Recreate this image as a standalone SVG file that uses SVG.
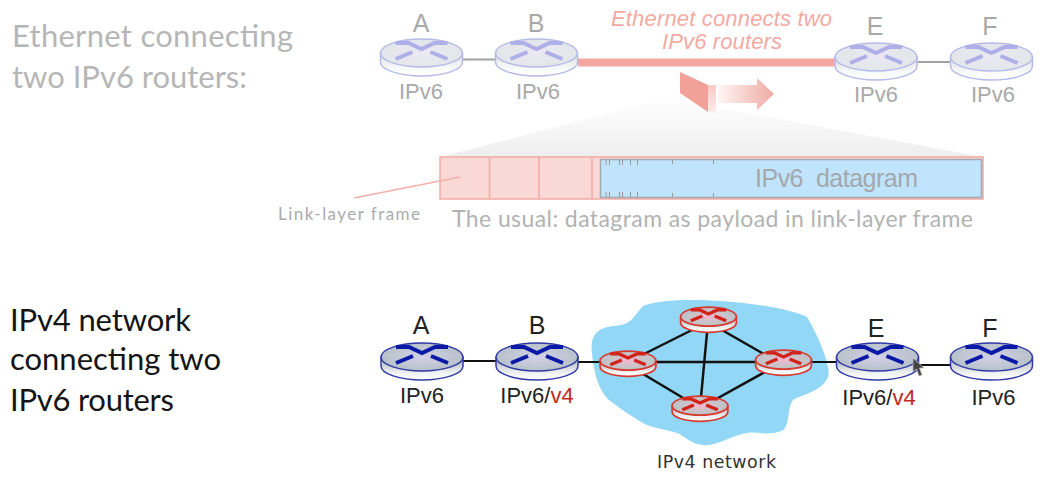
<svg xmlns="http://www.w3.org/2000/svg" width="1043" height="478" viewBox="0 0 1043 478">
<style>
text{font-family:"Liberation Sans",Arial,sans-serif}
.h{font-family:Lato,"Open Sans",sans-serif;font-size:31px}
.fade{fill:#b6b6b6}.dark{fill:#151515}
.n{font-size:22px;text-anchor:middle}
.l{font-size:25px;text-anchor:middle}
.top{fill:#a9a9a9}.bot{fill:#222}
.red{fill:#c5281c}
.eth{font-style:italic;font-size:22px;fill:#f3aaa3;text-anchor:middle}
.fade-link{stroke:#a2a2a2;stroke-width:2;fill:none}
.link{stroke:#111;stroke-width:2;fill:none}
.mesh{stroke:#111;stroke-width:2.500;fill:none}
.div{stroke:#f2aaa3;stroke-width:1.500;fill:none}
.tick{stroke:#9a9a9a;stroke-width:1;fill:none}
</style>
<defs>
<linearGradient id="bodyB" x1="0" x2="0" y1="0" y2="1"><stop offset="0" stop-color="#a9b1b6"/><stop offset=".7" stop-color="#f0f2f3"/><stop offset="1" stop-color="#ffffff"/></linearGradient>
<linearGradient id="bodyF" x1="0" x2="0" y1="0" y2="1"><stop offset="0" stop-color="#dde0e3"/><stop offset=".7" stop-color="#f9fafa"/><stop offset="1" stop-color="#ffffff"/></linearGradient>
<radialGradient id="topB"><stop offset="0" stop-color="#d3d0e8"/><stop offset="1" stop-color="#b7c2c9"/></radialGradient>
<radialGradient id="topF"><stop offset="0" stop-color="#ebe9f4"/><stop offset="1" stop-color="#e2e6e9"/></radialGradient>
<radialGradient id="topR"><stop offset="0" stop-color="#f7b4cd"/><stop offset=".6" stop-color="#c8c4ca"/><stop offset="1" stop-color="#bcc2c6"/></radialGradient>
<linearGradient id="zoomfan" x1="0" x2="0" y1="0" y2="1"><stop offset="0" stop-color="#ffffff"/><stop offset="1" stop-color="#eeeeee"/></linearGradient>
<linearGradient id="arrowfade" x1="0" x2="1" y1="0" y2="0"><stop offset="0" stop-color="#fff6f5"/><stop offset="1" stop-color="#eeaaa2"/></linearGradient>
<linearGradient id="stripfade" x1="0" x2="0" y1="0" y2="1"><stop offset="0" stop-color="#f8c9c4"/><stop offset="1" stop-color="#fdeeec"/></linearGradient>
<g id="routerF"><g fill="url(#bodyF)" stroke="#b6bae8" stroke-width="1.500"><path d="M-41,1V10A41,14 0 0 0 41,10V1Z"/><ellipse cx="0" cy="1" rx="41" ry="14" fill="url(#topF)"/></g><path d="M-26,-9H-13L0,-3L13,-9H26M-26,7L-9,0M9,0L26,7" fill="none" stroke="#aeaee8" stroke-width="4"/></g>
<g id="routerB"><g fill="url(#bodyB)" stroke="#2f3aa8" stroke-width="1.500"><path d="M-41,1V10A41,14 0 0 0 41,10V1Z"/><ellipse cx="0" cy="1" rx="41" ry="14" fill="url(#topB)"/></g><path d="M-26,-9H-13L0,-3L13,-9H26M-26,7L-9,0M9,0L26,7" fill="none" stroke="#0a19a6" stroke-width="4"/></g>
<g id="routerR"><g fill="url(#bodyB)" stroke="#d83a30" stroke-width="2.500"><path d="M-41,1V10A41,14 0 0 0 41,10V1Z"/><ellipse cx="0" cy="1" rx="41" ry="14" fill="url(#topR)"/></g><path d="M-26,-9H-13L0,-3L13,-9H26M-26,7L-9,0M9,0L26,7" fill="none" stroke="#d2231b" stroke-width="5"/></g>
</defs>

<g id="heading-ethernet"><text class="h fade" x="12" y="47" textLength="281">Ethernet connecting</text><text class="h fade" x="12" y="88" textLength="235">two IPv6 routers:</text></g>
<g id="heading-ipv4"><text class="h dark" x="10" y="331" textLength="181">IPv4 network</text><text class="h dark" x="10" y="370" textLength="211">connecting two</text><text class="h dark" x="10" y="411" textLength="164">IPv6 routers</text></g>

<g id="zoom-fan"><polygon points="440,157 672,97 720,108 983,157" fill="url(#zoomfan)"/></g>
<g id="cloud"><path d="M592,353C590,338 595,328 613,326C632,325 632,318 643,306C665,298 700,300 720,301C750,303 790,308 807,317C818,335 832,368 828,377C822,392 800,395 793,400C787,408 790,425 783,430C770,437 755,431 747,433C730,436 715,447 703,445C690,444 685,436 677,433C660,428 652,428 643,423C630,415 622,410 613,403C600,395 594,375 592,353Z" fill="#93d7f7"/></g>

<g id="connectors">
<line class="fade-link" x1="462" y1="59.500" x2="496" y2="59.500"/>
<line x1="578" y1="62.500" x2="836" y2="62.500" stroke="#f4a7a0" stroke-width="8"/>
<line class="fade-link" x1="917" y1="62" x2="950" y2="62"/>
<line class="link" x1="463" y1="361" x2="496" y2="361"/>
<line class="link" x1="578" y1="362" x2="628" y2="362"/>
<line class="mesh" x1="628" y1="362" x2="783" y2="362"/>
<line class="link" x1="783" y1="362" x2="836" y2="362"/>
<line class="link" x1="919" y1="365" x2="950" y2="365"/>
<line class="mesh" x1="628" y1="362" x2="708" y2="322"/>
<line class="mesh" x1="708" y1="322" x2="783" y2="365"/>
<line class="mesh" x1="628" y1="365" x2="700" y2="408"/>
<line class="mesh" x1="700" y1="408" x2="783" y2="362"/>
<line class="mesh" x1="708" y1="322" x2="700" y2="408"/>
</g>

<g id="router-top-A"><use href="#routerF" x="421.500" y="52"/><text class="l top" x="421" y="32">A</text><text class="n top" x="421" y="99">IPv6</text></g>
<g id="router-top-B"><use href="#routerF" x="536.500" y="52"/><text class="l top" x="536" y="32">B</text><text class="n top" x="538" y="99">IPv6</text></g>
<g id="router-top-E"><use href="#routerF" x="876" y="56"/><text class="l top" x="875" y="35">E</text><text class="n top" x="876" y="102">IPv6</text></g>
<g id="router-top-F"><use href="#routerF" x="991.500" y="56"/><text class="l top" x="990" y="35">F</text><text class="n top" x="993" y="102">IPv6</text></g>

<g id="ethernet-label"><text class="eth" x="721.500" y="26" textLength="221">Ethernet connects two</text><text class="eth" x="722" y="49" textLength="120">IPv6 routers</text></g>

<g id="moving-frame">
<polygon points="680,72 708,85 708,112 680,93" fill="#f2a198"/>
<polygon points="708,85 716,85 716,113 708,112" fill="url(#stripfade)"/>
<polygon points="718,85 757,85 757,78 774,94 757,110 757,103 718,103" fill="url(#arrowfade)"/>
</g>

<g id="frame">
<rect x="440" y="157" width="543" height="42" fill="#f9d8d6" stroke="#f2aaa3" stroke-width="1.500"/>
<line class="div" x1="489.500" y1="157" x2="489.500" y2="199"/>
<line class="div" x1="539" y1="157" x2="539" y2="199"/>
<line class="div" x1="592" y1="157" x2="592" y2="199"/>
<rect x="600.500" y="159.500" width="381" height="38" fill="#c0e4fb" stroke="#a3a9ae" stroke-width="1.500"/>
<path class="tick" d="M606,160v5M609.500,160v5M619.500,160v5M622.500,160v5M630.500,160v5M637.500,160v5M672.500,160v4M713.500,160v4M606,197v-5M609.500,197v-5M619.500,197v-5M622.500,197v-5M630.500,197v-5M637.500,197v-5M672.500,197v-4M713.500,197v-4"/>
<text x="755" y="187" font-size="25" fill="#a3a8ad" textLength="163" xml:space="preserve">IPv6  datagram</text>
</g>
<g id="frame-callout">
<line x1="354" y1="198" x2="460" y2="177" stroke="#f4b0a8" stroke-width="1.300"/>
<text x="278" y="220" style="font-family:Lato,sans-serif" font-size="17" fill="#ababab" textLength="142">Link-layer frame</text>
<text x="452" y="227" style="font-family:Lato,sans-serif" font-size="23" fill="#b2b2b2" textLength="521">The usual: datagram as payload in link-layer frame</text>
</g>

<g id="router-bot-A"><use href="#routerB" x="422" y="356"/><text class="l bot" x="421" y="334">A</text><text class="n bot" x="422" y="402.500">IPv6</text></g>
<g id="router-bot-B"><use href="#routerB" x="537" y="356"/><text class="l bot" x="537" y="334">B</text><text class="n bot" x="537" y="402.500">IPv6/<tspan class="red">v4</tspan></text></g>
<g id="router-bot-E"><use href="#routerB" x="877.500" y="356"/><text class="l bot" x="876" y="337">E</text><text class="n bot" x="879" y="405">IPv6/<tspan class="red">v4</tspan></text></g>
<g id="router-bot-F"><use href="#routerB" x="991.500" y="356"/><text class="l bot" x="990" y="337">F</text><text class="n bot" x="993.500" y="405">IPv6</text></g>

<g id="router-red-1"><use href="#routerR" transform="translate(628 360) scale(.68)"/></g>
<g id="router-red-2"><use href="#routerR" transform="translate(708.500 316) scale(.68)"/></g>
<g id="router-red-3"><use href="#routerR" transform="translate(783.500 359) scale(.68)"/></g>
<g id="router-red-4"><use href="#routerR" transform="translate(700 405) scale(.68)"/></g>
<g id="cloud-label"><text x="657" y="468" style="font-family:'DejaVu Sans',sans-serif" font-size="17.400" fill="#333" textLength="119">IPv4 network</text></g>

<g id="cursor"><polygon points="913,358 913,372 916.500,369 919,376 922,375 919.500,368 924,368" fill="#444" stroke="#bbb" stroke-width=".8"/></g>
</svg>
